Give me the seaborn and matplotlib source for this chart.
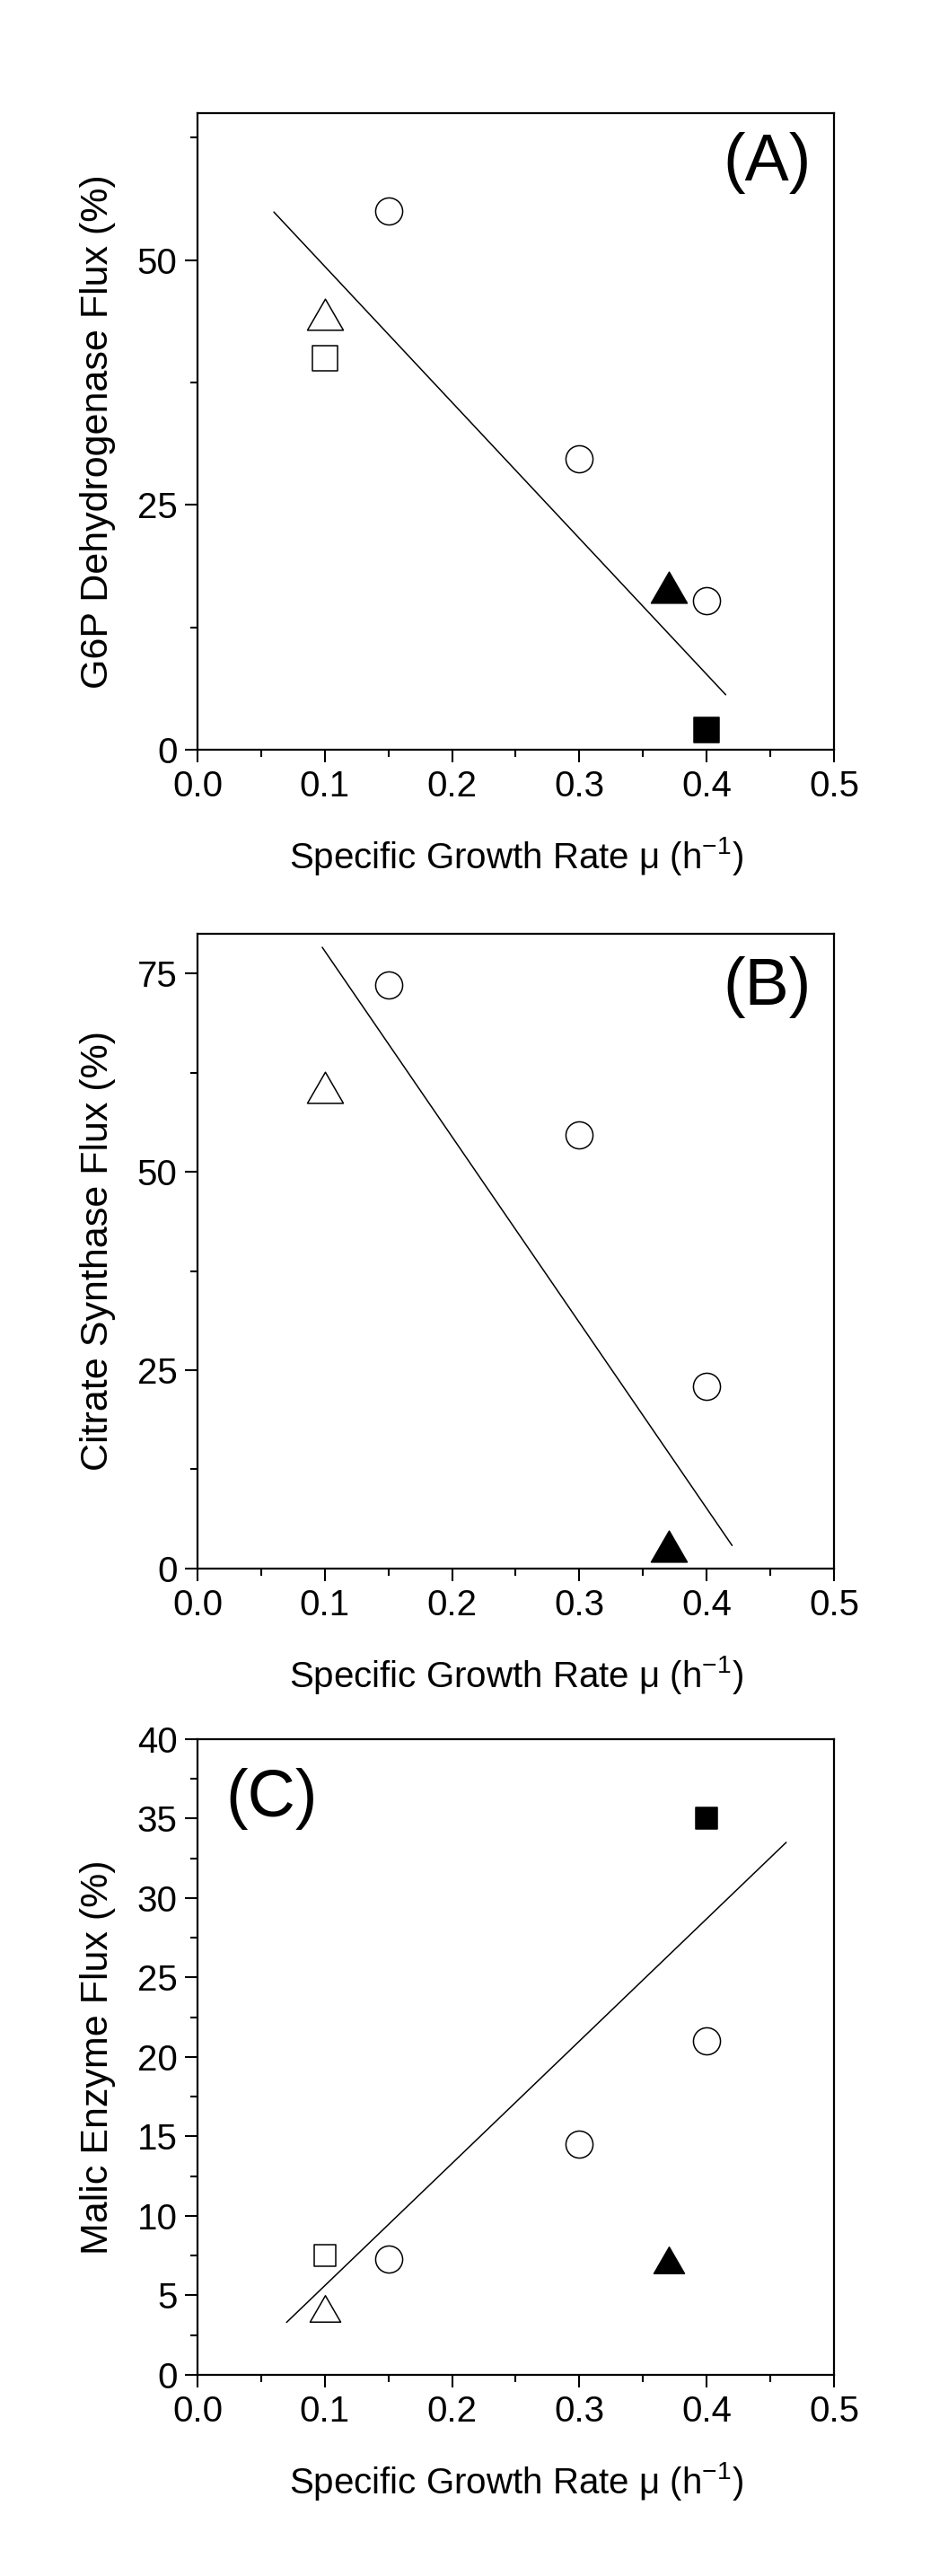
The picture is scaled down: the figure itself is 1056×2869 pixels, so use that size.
import matplotlib
matplotlib.use("Agg")
import matplotlib.pyplot as plt
from matplotlib.path import Path
from matplotlib.ticker import MultipleLocator, AutoMinorLocator
import seaborn as sns

# growth rate (h-1) for each marker group
mu_open_circle = [0.15, 0.30, 0.40]
mu_open_tri = [0.10]
mu_open_sq = [0.10]
mu_filled_tri = [0.37]
mu_filled_sq = [0.40]

# (A) G6P dehydrogenase flux (%)
g6p_open_circle = [55.0, 29.7, 15.2]
g6p_open_tri = [44.5]
g6p_open_sq = [40.0]
g6p_filled_tri = [16.6]
g6p_filled_sq = [2.0]
g6p_fit_x = [0.06, 0.415]
g6p_fit_y = [54.9, 5.6]

# (B) citrate synthase flux (%)
cs_open_circle = [73.5, 54.6, 23.0]
cs_open_tri = [60.6]
cs_filled_tri = [2.8]
cs_fit_x = [0.098, 0.42]
cs_fit_y = [78.3, 2.9]

# (C) malic enzyme flux (%)
me_open_circle = [7.3, 14.5, 21.0]
me_open_tri = [4.2]
me_open_sq = [7.5]
me_filled_tri = [7.2]
me_filled_sq = [35.0]
me_fit_x = [0.07, 0.4625]
me_fit_y = [3.3, 33.5]

sns.set_theme(style="ticks")
plt.rcParams['font.family'] = ['Liberation Sans', 'DejaVu Sans']
plt.rcParams['mathtext.fontset'] = 'custom'
plt.rcParams['mathtext.rm'] = 'Liberation Sans'
plt.rcParams['mathtext.it'] = 'Liberation Sans:italic'
plt.rcParams['axes.edgecolor'] = 'black'
plt.rcParams['axes.linewidth'] = 1.6

# wider-than-tall triangle, closed so the outline is complete
TRI = Path([(-1, -0.866), (1, -0.866), (0, 0.866), (-1, -0.866)],
           [Path.MOVETO, Path.LINETO, Path.LINETO, Path.CLOSEPOLY])
xlabel = 'Specific Growth Rate μ (h$^{-1}$)'


def draw_panel(ax, series, fit_x, fit_y, ylabel, ymax, ystep, tag, tag_pos, tri_s, sq_s):
    for x, y, marker, fill in series:
        if marker == 'o':
            s = 470
        elif marker == 's':
            s = sq_s
        else:
            marker = TRI
            s = tri_s
        sns.scatterplot(x=x, y=y, marker=marker, s=s, color=fill,
                        edgecolor='black', linewidth=1.1, ax=ax, zorder=3)
    sns.lineplot(x=fit_x, y=fit_y, color='black', linewidth=1.1, sort=False, ax=ax, zorder=2)

    ax.set_xlim(0, 0.5)
    ax.set_ylim(0, ymax)
    ax.xaxis.set_major_locator(MultipleLocator(0.1))
    ax.xaxis.set_minor_locator(AutoMinorLocator(2))
    ax.yaxis.set_major_locator(MultipleLocator(ystep))
    ax.yaxis.set_minor_locator(AutoMinorLocator(2))
    ax.xaxis.set_major_formatter(plt.FuncFormatter(lambda v, p: f'{v:.1f}'))
    ax.tick_params(which='major', direction='out', length=10, width=1.5,
                   labelsize=29, pad=6, color='black', labelcolor='black')
    ax.tick_params(which='minor', direction='out', length=6, width=1.5, color='black')
    ax.set_xlabel(xlabel, fontsize=29, labelpad=25, color='black')
    ax.set_ylabel(ylabel, fontsize=31, labelpad=17, color='black')
    ha = 'right' if tag_pos[0] > 0.5 else 'left'
    ax.text(tag_pos[0], tag_pos[1], tag, transform=ax.transAxes, fontsize=53,
            ha=ha, va='top', color='black')
    for sp in ax.spines.values():
        sp.set_visible(True)
        sp.set_linewidth(1.6)


fig = plt.figure(figsize=(10.56, 28.69), dpi=100)
ax_a = fig.add_axes([0.2083, 0.7090, 0.6714, 0.2471])
ax_b = fig.add_axes([0.2083, 0.3911, 0.6714, 0.2464])
ax_c = fig.add_axes([0.2083, 0.0781, 0.6714, 0.2468])

draw_panel(ax_a,
           [(mu_open_circle, g6p_open_circle, 'o', 'white'),
            (mu_open_tri, g6p_open_tri, '^', 'white'),
            (mu_open_sq, g6p_open_sq, 's', 'white'),
            (mu_filled_tri, g6p_filled_tri, '^', 'black'),
            (mu_filled_sq, g6p_filled_sq, 's', 'black')],
           g6p_fit_x, g6p_fit_y, 'G6P Dehydrogenase Flux (%)', 65, 25,
           '(A)', (0.965, 0.97), 830, 380)

draw_panel(ax_b,
           [(mu_open_circle, cs_open_circle, 'o', 'white'),
            (mu_open_tri, cs_open_tri, '^', 'white'),
            (mu_filled_tri, cs_filled_tri, '^', 'black')],
           cs_fit_x, cs_fit_y, 'Citrate Synthase Flux (%)', 80, 25,
           '(B)', (0.965, 0.965), 830, 380)

draw_panel(ax_c,
           [(mu_open_circle, me_open_circle, 'o', 'white'),
            (mu_open_tri, me_open_tri, '^', 'white'),
            (mu_open_sq, me_open_sq, 's', 'white'),
            (mu_filled_tri, me_filled_tri, '^', 'black'),
            (mu_filled_sq, me_filled_sq, 's', 'black')],
           me_fit_x, me_fit_y, 'Malic Enzyme Flux (%)', 40, 5,
           '(C)', (0.045, 0.955), 600, 280)

fig.savefig('out.png', dpi=100, facecolor='white')
